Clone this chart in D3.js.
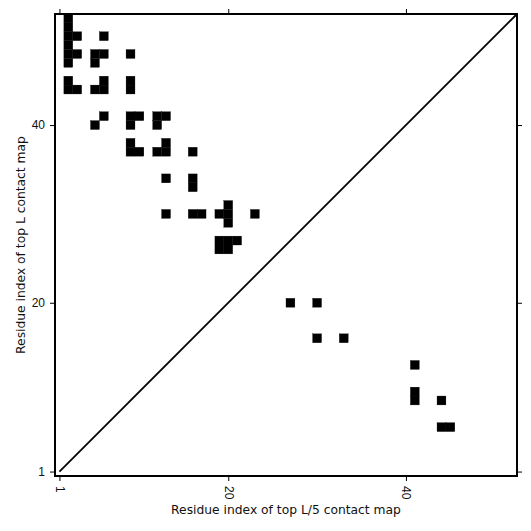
<!DOCTYPE html>
<html>
<head>
<meta charset="utf-8">
<script src="https://cdn.jsdelivr.net/npm/d3@7"></script>
<style>
  body { margin: 0; background: #fff; }
  svg { display: block; font-family: "DejaVu Sans", sans-serif; }
</style>
</head>
<body>
<script>
// sequence length and tick labels
var seqLength = 52;
var tickValues = [1, 20, 40];

// top L contacts (residue i on x, residue j on y, i < j)
var topL_i = [2, 2, 2, 3, 6, 2, 2, 3, 5, 6, 9, 2, 5, 2, 6, 9, 2, 3, 5, 6, 9,
              6, 9, 10, 12, 13, 5, 9, 12, 9, 13, 9, 10, 12, 13, 16, 13, 16, 16,
              20, 13, 16, 17, 19, 20, 23, 20, 19, 20, 21, 19, 20];
var topL_j = [52, 51, 50, 50, 50, 49, 48, 48, 48, 48, 48, 47, 47, 45, 45, 45, 44, 44, 44, 44, 44,
              41, 41, 41, 41, 41, 40, 40, 40, 38, 38, 37, 37, 37, 37, 37, 34, 34, 33,
              31, 30, 30, 30, 30, 30, 30, 29, 27, 27, 27, 26, 26];

// top L/5 contacts (drawn mirrored: residue j on x, residue i on y)
var topL5_i = [20, 20, 16, 16, 13, 10, 9, 9, 6, 6];
var topL5_j = [27, 30, 30, 33, 41, 41, 41, 44, 44, 45];

var xLabel = "Residue index of top L/5 contact map";
var yLabel = "Residue index of top L contact map";

var width = 531;
var height = 531;
var margin = {left: 55, top: 14, right: 14, bottom: 55};

var svg = d3.select("body").append("svg").attr("width", width).attr("height", height);

var x = d3.scaleLinear().domain([0.5, seqLength + 0.5]).range([margin.left, width - margin.right]);
var y = d3.scaleLinear().domain([0.5, seqLength + 0.5]).range([height - margin.bottom, margin.top]);

var cells = [];
for (var k = 0; k < topL_i.length; k++) cells.push({cx: topL_i[k], cy: topL_j[k]});
for (var k = 0; k < topL5_i.length; k++) cells.push({cx: topL5_j[k], cy: topL5_i[k]});

svg.append("g").selectAll("rect")
    .data(cells)
    .enter().append("rect")
    .attr("x", function(d){ return x(d.cx - 0.5); })
    .attr("y", function(d){ return y(d.cy + 0.5); })
    .attr("width", function(d){ return x(d.cx + 0.5) - x(d.cx - 0.5); })
    .attr("height", function(d){ return y(d.cy - 0.5) - y(d.cy + 0.5); })
    .attr("fill", "black")
    .attr("stroke", "black")
    .attr("stroke-width", 0.3);

// diagonal
svg.append("line")
    .attr("x1", x(1)).attr("y1", y(1))
    .attr("x2", x(seqLength + 0.5)).attr("y2", y(seqLength + 0.5))
    .attr("stroke", "black")
    .attr("stroke-width", 1.8);

function styleAxis(g){
    g.select(".domain").remove();
    g.selectAll(".tick line").attr("stroke", "black").attr("stroke-width", 1);
    g.selectAll(".tick text").attr("fill", "#111").attr("font-size", 12);
}

var fmt = d3.format("d");
var bottomAxis = svg.append("g")
    .attr("transform", "translate(0," + (height - margin.bottom) + ")")
    .call(d3.axisBottom(x).tickValues(tickValues).tickFormat(fmt).tickSize(5).tickPadding(6))
    .call(styleAxis);
bottomAxis.selectAll(".tick text")
    .attr("transform", "rotate(90)")
    .attr("x", 10).attr("y", 0)
    .attr("dy", "0.35em")
    .attr("text-anchor", "start");

svg.append("g")
    .attr("transform", "translate(0," + margin.top + ")")
    .call(d3.axisTop(x).tickValues(tickValues).tickFormat("").tickSize(5))
    .call(styleAxis);

svg.append("g")
    .attr("transform", "translate(" + margin.left + ",0)")
    .call(d3.axisLeft(y).tickValues(tickValues).tickFormat(fmt).tickSize(5).tickPadding(5))
    .call(styleAxis);

svg.append("g")
    .attr("transform", "translate(" + (width - margin.right) + ",0)")
    .call(d3.axisRight(y).tickValues(tickValues).tickFormat("").tickSize(5))
    .call(styleAxis);

// frame
svg.append("rect")
    .attr("x", margin.left).attr("y", margin.top)
    .attr("width", width - margin.left - margin.right)
    .attr("height", height - margin.top - margin.bottom)
    .attr("fill", "none")
    .attr("stroke", "black")
    .attr("stroke-width", 2);

svg.append("text")
    .attr("x", (margin.left + width - margin.right) / 2)
    .attr("y", 514)
    .attr("text-anchor", "middle")
    .attr("font-size", 12.3)
    .attr("fill", "#111")
    .text(xLabel);

svg.append("text")
    .attr("transform", "translate(25," + ((margin.top + height - margin.bottom) / 2) + ") rotate(-90)")
    .attr("text-anchor", "middle")
    .attr("font-size", 12.3)
    .attr("fill", "#111")
    .text(yLabel);
</script>
</body>
</html>
